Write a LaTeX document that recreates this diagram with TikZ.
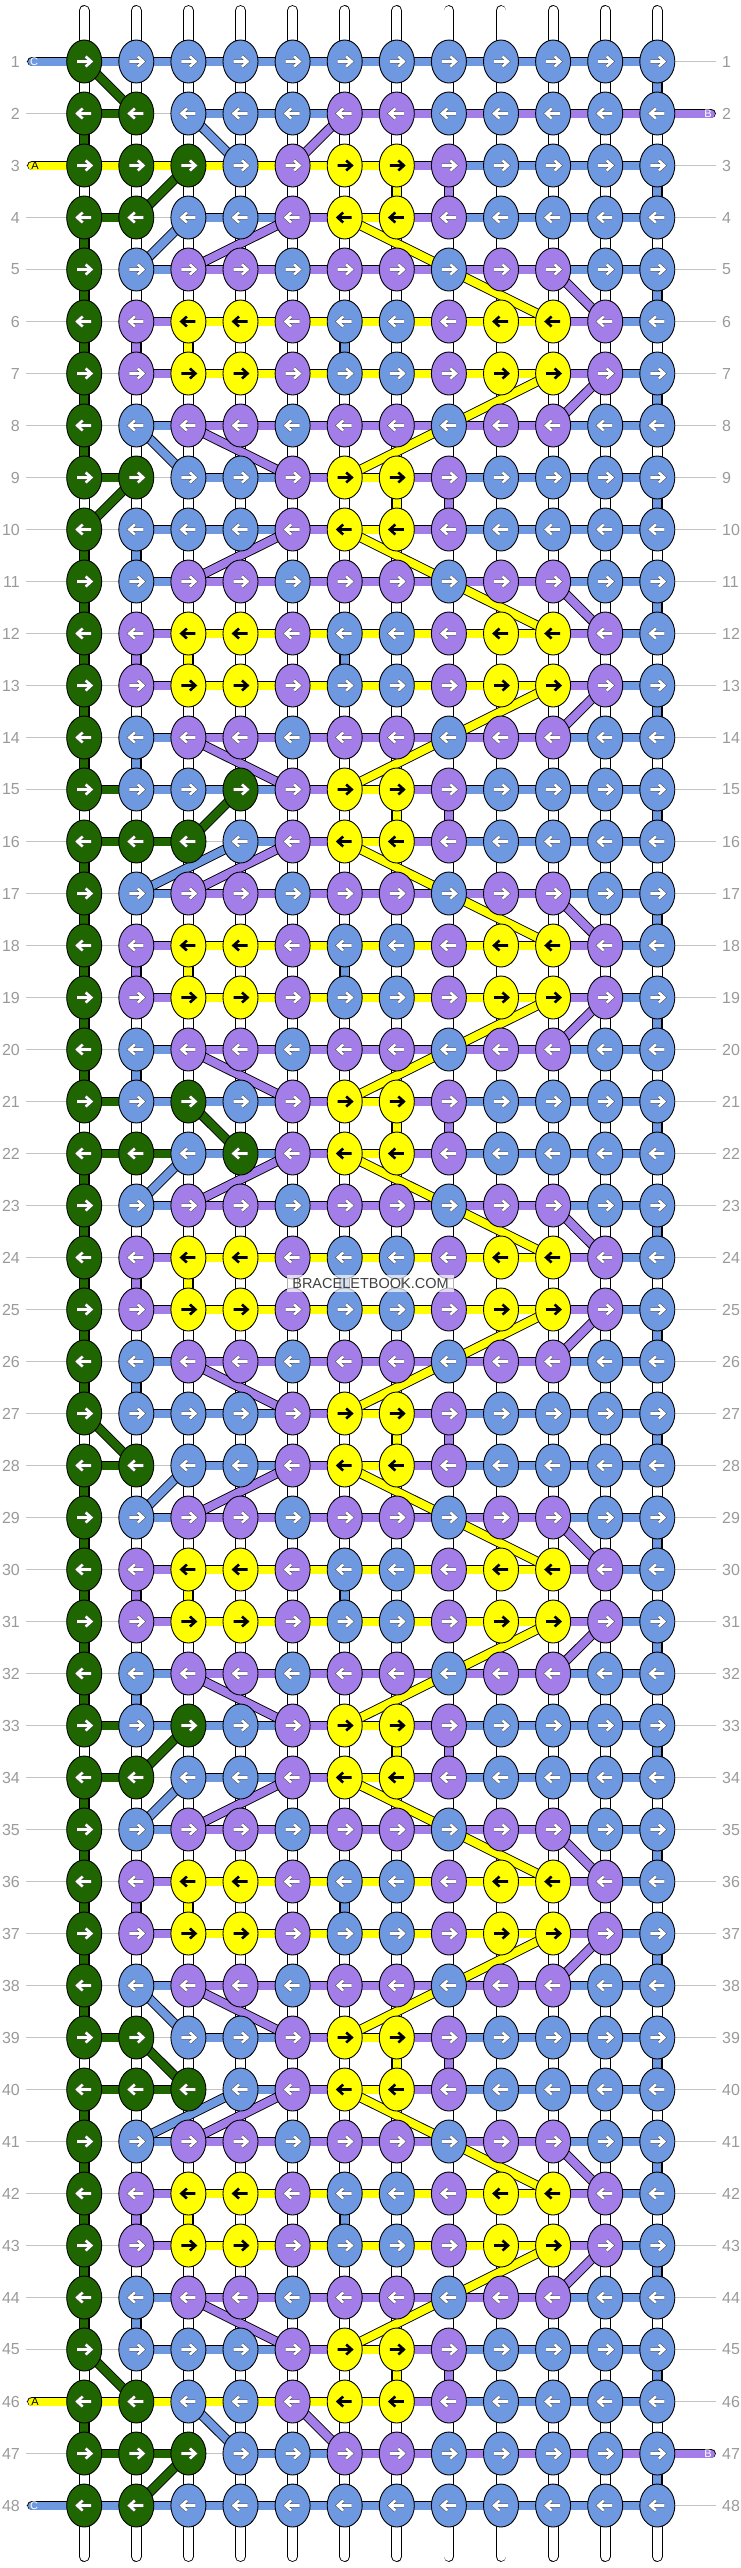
\documentclass[tikz,border=0pt]{standalone}
\usepackage{fontspec}
\setmainfont{Liberation Sans}
\usetikzlibrary{shapes.geometric}

\definecolor{kg}{HTML}{1F6600}
\definecolor{kb}{HTML}{6E98DF}
\definecolor{kp}{HTML}{A37EE8}
\definecolor{ky}{HTML}{FFFF00}
\definecolor{labgray}{HTML}{9A9A9A}
\definecolor{guidegray}{HTML}{C4C4C4}

\def\kfive{g,b,p,p,b,p,p,b,p,p,b,b}
\def\ksix{g,p,y,y,p,b,b,p,y,y,p,b}
\def\kgg{g,g,b,b,p,y,y,p,b,b,b,b}
\def\kgb{g,b,b,b,p,y,y,p,b,b,b,b}
\def\kggg{g,g,g,b,p,y,y,p,b,b,b,b}
\def\kgbg{g,b,g,b,p,y,y,p,b,b,b,b}
\def\sfive{n,n,b,p,p,p,p,p,p,p,b,b,n}
\def\ssix{n,n,p,y,y,y,y,y,y,y,p,b,n}
\def\sgn{n,g,n,b,b,p,y,p,b,b,b,b,n}
\def\snn{n,n,b,b,b,p,y,p,b,b,b,b,n}
\def\sgb{n,g,b,b,b,p,y,p,b,b,b,b,n}
\def\sggn{n,g,g,n,b,p,y,p,b,b,b,b,n}
\def\sya{y,y,y,y,y,y,y,p,b,b,b,b,n}
\def\sbc{b,b,b,b,b,b,b,b,b,b,b,b,n}

\def\rowdata{1/{g,b,b,b,b,b,b,b,b,b,b,b}/\sbc,
 2/{g,g,b,b,b,p,p,b,b,b,b,b}/{n,g,n,b,b,b,p,p,p,p,p,p,p},
 3/\kggg/\sya, 4/\kgg/\sgn,
 5/\kfive/\sfive, 6/\ksix/\ssix, 7/\ksix/\ssix, 8/\kfive/\sfive,
 9/\kgg/\sgn, 10/\kgb/\snn,
 11/\kfive/\sfive, 12/\ksix/\ssix, 13/\ksix/\ssix, 14/\kfive/\sfive,
 15/{g,b,b,g,p,y,y,p,b,b,b,b}/\sgb, 16/\kggg/\sggn,
 17/\kfive/\sfive, 18/\ksix/\ssix, 19/\ksix/\ssix, 20/\kfive/\sfive,
 21/\kgbg/\sgb, 22/{g,g,b,g,p,y,y,p,b,b,b,b}/{n,g,g,b,b,p,y,p,b,b,b,b,n},
 23/\kfive/\sfive, 24/\ksix/\ssix, 25/\ksix/\ssix, 26/\kfive/\sfive,
 27/\kgb/\snn, 28/\kgg/\sgn,
 29/\kfive/\sfive, 30/\ksix/\ssix, 31/\ksix/\ssix, 32/\kfive/\sfive,
 33/\kgbg/\sgb, 34/\kgg/\sgn,
 35/\kfive/\sfive, 36/\ksix/\ssix, 37/\ksix/\ssix, 38/\kfive/\sfive,
 39/\kgg/\sgn, 40/\kggg/\sggn,
 41/\kfive/\sfive, 42/\ksix/\ssix, 43/\ksix/\ssix, 44/\kfive/\sfive,
 45/\kgb/\snn, 46/\kgg/\sya,
 47/{g,g,g,b,b,p,p,b,b,b,b,b}/{n,g,g,n,b,b,p,p,p,p,p,p,p},
 48/{g,g,b,b,b,b,b,b,b,b,b,b}/\sbc}

\begin{document}
\begin{tikzpicture}[x=1pt,y=-1pt,
  knot/.style={ellipse,draw,line width=0.9pt,minimum width=35pt,minimum height=43pt,inner sep=0pt},
  k-g/.style={fill=kg},k-b/.style={fill=kb},k-p/.style={fill=kp},k-y/.style={fill=ky},
  strand/.style={draw=black,line width=0.9pt,double distance=8pt,line cap=round},
  c-g/.style={double=kg},c-b/.style={double=kb},c-p/.style={double=kp},c-y/.style={double=ky},
  c-n/.style={opacity=0},
  base/.style={draw=black,line width=0.9pt,double=white,double distance=9pt,line cap=round},
  guide/.style={draw=guidegray,line width=1.4pt,shorten <=6pt,shorten >=6pt},
  rowlab/.style={text=labgray,font=\fontsize{16}{16}\selectfont,inner sep=0pt},
  tabtext/.style={font=\fontsize{11}{11}\selectfont,inner sep=0pt},
  arr/.style={line width=2.6pt,line join=miter},
  a-g/.style={draw=white,preaction={draw=black!70,line width=3.6pt}},
  a-b/.style={a-g},a-p/.style={a-g},a-y/.style={draw=black},
  wmark/.style={fill=white,fill opacity=0.7,text opacity=1,text=black!75,
    font=\fontsize{14.5}{14.5}\selectfont,inner xsep=5pt,inner ysep=3pt,
    text height=10.5pt,text depth=0pt}]

  \useasboundingbox (0,0) rectangle (740,2568);

  \foreach \row/\knots/\segs in \rowdata {
    \pgfmathsetmacro\yy{61.5+52*(\row-1)}
    \node[rowlab,anchor=east] (ll-\row) at (20,\yy) {\row};
    \node[rowlab,anchor=west] (rl-\row) at (722,\yy) {\row};
    \draw[guide] (ll-\row.east) -- (rl-\row.west);
    \coordinate (tl-\row) at (32,\yy);
    \coordinate (tr-\row) at (711,\yy);
    \foreach \col in {1,...,12} {
      \pgfmathsetmacro\xx{84.2+52.1*(\col-1)}
      \coordinate (p-\row-\col) at (\xx,\yy);
    }
  }

  \foreach \col in {1,...,12} {
    \pgfmathsetmacro\xx{84.2+52.1*(\col-1)}
    \coordinate (top-\col) at (\xx,10.5);
    \coordinate (bot-\col) at (\xx,2556.5);
    \draw[base] (top-\col) -- (bot-\col);
  }

  \foreach \row/\knots/\segs in \rowdata {
    \edef\slist{\segs}
    \foreach \sg [count=\si from 0] in \slist {
      \pgfmathtruncatemacro\nc{\si+1}
      \ifnum\si=0 \draw[strand,c-\sg] (tl-\row) -- (p-\row-1);
      \else\ifnum\si=12 \draw[strand,c-\sg] (p-\row-12) -- (tr-\row);
      \else \draw[strand,c-\sg] (p-\row-\si) -- (p-\row-\nc);
      \fi\fi
    }
  }

  \foreach \row in {2,4,5,6,7,8,10,11,12,13,14,16,17,18,19,20,22,23,24,25,26,
      28,29,30,31,32,34,35,36,37,38,40,41,42,43,44,46} {
    \pgfmathtruncatemacro\nx{\row+1}
    \draw[strand,c-g] (p-\row-1) -- (p-\nx-1);
  }
  \foreach \row in {1,3,...,47} {
    \pgfmathtruncatemacro\nx{\row+1}
    \draw[strand,c-b] (p-\row-12) -- (p-\nx-12);
  }
  \foreach \row in {6,12,...,42} {
    \pgfmathtruncatemacro\nx{\row+1}
    \draw[strand,c-p] (p-\row-2) -- (p-\nx-2);
    \draw[strand,c-y] (p-\row-3) -- (p-\nx-3);
    \draw[strand,c-b] (p-\row-6) -- (p-\nx-6);
  }
  \foreach \row in {3,9,...,45} {
    \pgfmathtruncatemacro\nx{\row+1}
    \draw[strand,c-y] (p-\row-7) -- (p-\nx-7);
    \draw[strand,c-p] (p-\row-8) -- (p-\nx-8);
  }
  \foreach \row in {10,14,20,26,32,44} {
    \pgfmathtruncatemacro\nx{\row+1}
    \draw[strand,c-b] (p-\row-2) -- (p-\nx-2);
  }

  \foreach \row in {4,10,...,40} {
    \pgfmathtruncatemacro\nx{\row+1}
    \pgfmathtruncatemacro\nn{\row+2}
    \draw[strand,c-y] (p-\row-6) -- (p-\nx-8) -- (p-\nn-10);
    \draw[strand,c-p] (p-\row-5) -- (p-\nx-3);
  }
  \foreach \row in {5,11,...,41} {
    \pgfmathtruncatemacro\nx{\row+1}
    \draw[strand,c-p] (p-\row-10) -- (p-\nx-11);
  }
  \foreach \row in {7,13,...,43} {
    \pgfmathtruncatemacro\nx{\row+1}
    \pgfmathtruncatemacro\nn{\row+2}
    \draw[strand,c-y] (p-\row-10) -- (p-\nx-8) -- (p-\nn-6);
    \draw[strand,c-p] (p-\row-11) -- (p-\nx-10);
  }
  \foreach \row in {8,14,...,44} {
    \pgfmathtruncatemacro\nx{\row+1}
    \draw[strand,c-p] (p-\row-3) -- (p-\nx-5);
  }
  \foreach \row/\ca/\cb/\cc in {2/6/5/p,46/5/6/p,
      2/3/4/b,4/3/2/b,8/2/3/b,16/4/2/b,22/3/2/b,28/3/2/b,34/3/2/b,38/2/3/b,40/4/2/b,46/3/4/b,
      1/1/2/g,3/3/2/g,9/2/1/g,15/4/3/g,21/3/4/g,27/1/2/g,33/3/2/g,39/2/3/g,45/1/2/g,47/3/2/g} {
    \pgfmathtruncatemacro\nx{\row+1}
    \draw[strand,c-\cc] (p-\row-\ca) -- (p-\nx-\cb);
  }

  \foreach \row/\knots/\segs in \rowdata {
    \pgfmathsetmacro\dd{1-2*mod(\row+1,2)}
    \edef\klist{\knots}
    \foreach \kc [count=\col] in \klist {
      \node[knot,k-\kc] (k-\row-\col) at (p-\row-\col) {};
      \begin{scope}[shift={(k-\row-\col.center)},xscale=\dd]
        \draw[arr,a-\kc] (-7,0) -- (6.5,0) (1.5,-5) -- (7,0) -- (1.5,5);
      \end{scope}
    }
  }

  \node[tabtext,text=white] (tab-1) at ([xshift=2pt]tl-1) {C};
  \node[tabtext,text=white] (tab-2) at ([xshift=-3pt]tr-2) {B};
  \node[tabtext,text=black] (tab-3) at ([xshift=3pt]tl-3) {A};
  \node[tabtext,text=black] (tab-46) at ([xshift=3pt]tl-46) {A};
  \node[tabtext,text=white] (tab-47) at ([xshift=-3pt]tr-47) {B};
  \node[tabtext,text=white] (tab-48) at ([xshift=2pt]tl-48) {C};

  \node[wmark] (wm) at (370.5,1283.5) {BRACELETBOOK.COM};
\end{tikzpicture}
\end{document}
